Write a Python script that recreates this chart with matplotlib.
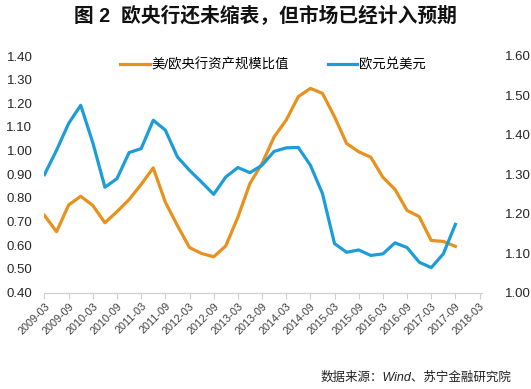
import matplotlib
matplotlib.use("Agg")
import matplotlib.pyplot as plt
import numpy as np

plt.rcParams['font.family'] = ['Liberation Sans', 'Noto Sans CJK SC']

# quarterly, 2009-03 ... 2017-09
ratio = [0.726, 0.657, 0.770, 0.807, 0.768, 0.695, 0.742, 0.793, 0.857, 0.927,
         0.782, 0.683, 0.590, 0.565, 0.551, 0.597, 0.718, 0.861, 0.945, 1.058,
         1.129, 1.228, 1.263, 1.242, 1.143, 1.030, 0.995, 0.972, 0.887, 0.836,
         0.747, 0.721, 0.620, 0.616, 0.595]
eurusd = [1.299, 1.361, 1.429, 1.475, 1.380, 1.267, 1.289, 1.355, 1.365, 1.437,
          1.412, 1.344, 1.310, 1.280, 1.249, 1.293, 1.317, 1.304, 1.323, 1.358,
          1.367, 1.368, 1.323, 1.251, 1.124, 1.102, 1.108, 1.094, 1.098, 1.126,
          1.114, 1.077, 1.063, 1.098, 1.173]
tick_labels = ['2009-03', '2009-09', '2010-03', '2010-09', '2011-03', '2011-09',
               '2012-03', '2012-09', '2013-03', '2013-09', '2014-03', '2014-09',
               '2015-03', '2015-09', '2016-03', '2016-09', '2017-03', '2017-09',
               '2018-03']
left_ticks = [0.4, 0.5, 0.6, 0.7, 0.8, 0.9, 1.0, 1.1, 1.2, 1.3, 1.4]
right_ticks = [1.0, 1.1, 1.2, 1.3, 1.4, 1.5, 1.6]

orange = '#E8911C'
blue = '#1D9DD8'

fig = plt.figure(figsize=(5.31, 3.89), dpi=100)
ax = fig.add_axes([43.5 / 531, 1 - 292.5 / 389, (482 - 43.5) / 531, (292.5 - 56) / 389])
ax2 = ax.twinx()

x = np.arange(len(ratio))
l1, = ax.plot(x, ratio, color=orange, lw=2.3, label='美/欧央行资产规模比值')
l2, = ax2.plot(x, eurusd, color=blue, lw=2.3, label='欧元兑美元')

ax.set_xlim(-0.08, 36.2)
ax.set_ylim(0.4, 1.4)
ax2.set_ylim(1.0, 1.6)
ax.set_yticks(left_ticks)
ax.set_yticklabels(['%.2f' % v for v in left_ticks])
ax2.set_yticks(right_ticks)
ax2.set_yticklabels(['%.2f' % v for v in right_ticks])
ax.set_xticks(np.arange(0, 37, 2))
ax.set_xticklabels(tick_labels, rotation=45, ha='right', rotation_mode='anchor',
                   fontsize=7.8, color='#404040')

for a in (ax, ax2):
    for s in ('top', 'left', 'right'):
        a.spines[s].set_visible(False)
    a.spines['bottom'].set_color('#D0D0D0')
ax.tick_params(axis='y', length=0, pad=8, labelsize=9.5, labelcolor='#262626')
ax2.tick_params(axis='y', length=0, pad=16.5, labelsize=9.5, labelcolor='#262626')
ax.tick_params(axis='x', length=4, color='#D0D0D0', pad=2)

ax.legend(handles=[l1, l2], loc='upper center', bbox_to_anchor=(0.524, 1.04), ncol=2,
          frameon=False, fontsize=9.6, handlelength=2.2, handletextpad=0.15,
          columnspacing=2.89)

fig.text(0.5, 0.958, '图 2  欧央行还未缩表，但市场已经计入预期', ha='center', va='center',
         fontsize=14.2, fontweight='bold', color='#111111')
fig.text(0.964, 0.028, '数据来源：Wind、苏宁金融研究院', ha='right', va='center',
         fontsize=9, style='italic', color='#222222')

fig.savefig('out.png', dpi=100)
